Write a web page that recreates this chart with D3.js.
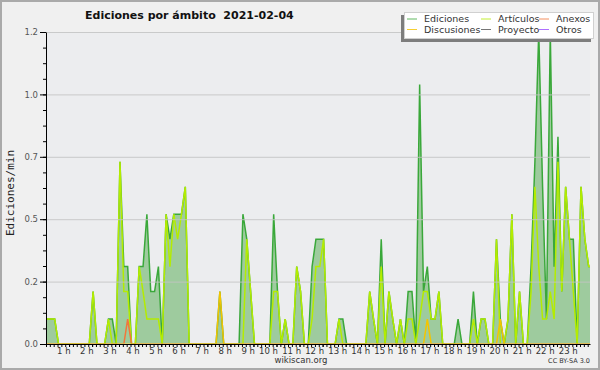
<!DOCTYPE html>
<html>
<head>
<meta charset="utf-8">
<script src="https://cdn.jsdelivr.net/npm/d3@7"></script>
<style>
  body { margin: 0; background: #f0f0f0; }
  svg { display: block; }
  text { font-family: "DejaVu Sans", sans-serif; }
</style>
</head>
<body>
<svg id="chart" width="600" height="370"></svg>
<script>
// edits per minute, one value per 10-minute slot from 00:00
var ediciones = [
  0.1,0.1,0.1,0,0,0,0,0,0,0,0,0,
  0.21,0,0,0,0.1,0.1,0,0.73,0.31,0.31,0,0,
  0.31,0.31,0.52,0.21,0.21,0.31,0,0.52,0.42,0.52,0.52,0.52,
  0.63,0,0,0,0,0,0,0,0,0.21,0,0,
  0,0,0,0.52,0.42,0.21,0,0,0,0,0,0.52,
  0.21,0,0.1,0,0,0.31,0.21,0,0,0.31,0.42,0.42,
  0.42,0,0,0,0.1,0.1,0,0,0,0,0,0,
  0.21,0.1,0,0.42,0,0.21,0.1,0,0.1,0,0.21,0.21,
  0,1.04,0.21,0.31,0.1,0.1,0.21,0,0,0,0,0.1,
  0,0,0,0.21,0,0.1,0.1,0,0,0.42,0.1,0,
  0.1,0.52,0,0.21,0,0,0.31,0.73,1.25,0.63,0.1,1.25,
  0.31,0.83,0.21,0.63,0.42,0.42,0,0.63,0.42,0.31,0.31
];
var articulos = [
  0.1,0.1,0.1,0,0,0,0,0,0,0,0,0,
  0.21,0,0,0,0.1,0,0,0.73,0.21,0.21,0,0,
  0.31,0.21,0.1,0.1,0.1,0.1,0,0.52,0.31,0.52,0.42,0.52,
  0.63,0,0,0,0,0,0,0,0,0,0,0,
  0,0,0,0,0.42,0.21,0,0,0,0,0,0.21,
  0.21,0,0.1,0,0,0.31,0.21,0,0,0.1,0.31,0.31,
  0.42,0,0,0,0.1,0,0,0,0,0,0,0,
  0.21,0.1,0,0.31,0,0.21,0.1,0,0.1,0,0.1,0.1,
  0,0.1,0.21,0.21,0.1,0.1,0.21,0,0,0,0,0,
  0,0,0,0.1,0,0.1,0.1,0,0,0.42,0,0,
  0.1,0.52,0,0.21,0,0,0.21,0.63,0.31,0.1,0.1,0.21,
  0.1,0.73,0.21,0.63,0.42,0.21,0,0.63,0.42,0.31,0.31
];
var anexos = [
  0,0,0,0,0,0,0,0,0,0,0,0,
  0,0,0,0,0,0,0,0,0,0.1,0,0,
  0,0,0,0,0,0,0,0,0,0,0,0,
  0,0,0,0,0,0,0,0,0,0,0,0,
  0,0,0,0,0,0,0,0,0,0,0,0,
  0,0,0,0,0,0,0,0,0,0,0,0,
  0,0,0,0,0,0,0,0,0,0,0,0,
  0,0,0,0,0,0,0,0,0,0,0,0,
  0,0,0,0,0,0,0,0,0,0,0,0,
  0,0,0,0,0,0,0,0,0,0,0,0,
  0,0,0,0,0,0,0,0,0,0,0,0,
  0,0,0,0,0,0,0,0,0,0,0
];
var discusiones = [
  0,0,0,0,0,0,0,0,0,0,0,0,
  0,0,0,0,0,0,0,0,0,0,0,0,
  0,0,0,0,0,0,0,0,0,0,0,0,
  0,0,0,0,0,0,0,0,0,0.21,0,0,
  0,0,0,0,0,0,0,0,0,0,0,0,
  0,0,0,0,0,0,0,0,0,0,0,0,
  0,0,0,0,0,0,0,0,0,0,0,0,
  0,0,0,0,0,0,0,0,0,0,0,0,
  0,0,0,0.1,0,0,0,0,0,0,0,0,
  0,0,0,0,0,0,0,0,0,0,0.1,0,
  0,0,0,0,0,0,0,0,0,0,0,0,
  0,0,0,0,0,0,0,0,0,0,0
];

var yTicks = [0, 0.25, 0.5, 0.75, 1, 1.25];
var yLabels = ["0.0", "0.2", "0.5", "0.7", "1.0", "1.2"];
var hourLabels = d3.range(1, 24);

var legendItems = [
  {name: "Ediciones",   color: "#3aa83a", col: 0, row: 0},
  {name: "Artículos",   color: "#b4ec00", col: 1, row: 0},
  {name: "Anexos",      color: "#f2763a", col: 2, row: 0},
  {name: "Discusiones", color: "#f4c400", col: 0, row: 1},
  {name: "Proyecto",    color: "#555555", col: 1, row: 1},
  {name: "Otros",       color: "#9a4dff", col: 2, row: 1}
];

var svg = d3.select("#chart");
var plotLeft = 46, plotRight = 590, plotTop = 32, plotBottom = 344;

// outer frame
svg.append("rect").attr("x", 1).attr("y", 1).attr("width", 598).attr("height", 368)
  .attr("fill", "#f0f0f0").attr("stroke", "#aaaaaa").attr("stroke-width", 2);
svg.append("rect").attr("x", plotLeft).attr("y", plotTop)
  .attr("width", plotRight - plotLeft).attr("height", plotBottom - plotTop)
  .attr("fill", "#ecedef");

var x = d3.scaleLinear().domain([0, 23.6]).range([plotLeft, plotRight]);
var y = d3.scaleLinear().domain([0, 1.25]).range([plotBottom, plotTop]);
function slotX(i){ return x(i / 6) + 1; }

svg.append("clipPath").attr("id", "plot")
  .append("rect").attr("x", plotLeft).attr("y", plotTop - 2)
  .attr("width", plotRight - plotLeft).attr("height", plotBottom - plotTop + 1.5);

var g = svg.append("g").attr("clip-path", "url(#plot)");

var area = d3.area()
  .x(function(d, i){ return slotX(i); })
  .y0(y(0))
  .y1(function(d){ return y(d); });
var line = d3.line()
  .x(function(d, i){ return slotX(i); })
  .y(function(d){ return y(d); });

g.append("path").datum(ediciones).attr("d", area).attr("fill", "#9ecb9e");

// grid over the area
svg.append("g").selectAll("line").data(yTicks.slice(1)).enter().append("line")
  .attr("x1", plotLeft).attr("x2", plotRight)
  .attr("y1", function(d){ return y(d) + 0.5; }).attr("y2", function(d){ return y(d) + 0.5; })
  .attr("stroke", "#c4c4c4").attr("stroke-width", 1).attr("opacity", 0.85);

var series = [
  {data: ediciones, color: "#3aa83a"},
  {data: articulos, color: "#b4ec00"},
  {data: anexos, color: "#f2763a"},
  {data: discusiones, color: "#f4c400"}
];
g.selectAll("path.serie").data(series).enter().append("path")
  .attr("class", "serie")
  .attr("d", function(s){ return line(s.data); })
  .attr("fill", "none")
  .attr("stroke", function(s){ return s.color; })
  .attr("stroke-width", 1.5)
  .attr("stroke-linejoin", "miter");

// y axis
var yMinor = svg.append("g").attr("transform", "translate(" + plotLeft + ",0)")
  .call(d3.axisLeft(y).tickValues(d3.range(0, 1.26, 0.0625)).tickSize(3).tickFormat("").tickSizeOuter(0));
yMinor.select(".domain").remove();
var yAxis = svg.append("g").attr("transform", "translate(" + plotLeft + ",0)")
  .call(d3.axisLeft(y).tickValues(yTicks).tickSize(6).tickPadding(2).tickSizeOuter(0)
    .tickFormat(function(d, i){ return yLabels[i]; }));
yAxis.selectAll("text").attr("font-size", 8.5).attr("fill", "#555").attr("font-family", "DejaVu Sans");
svg.selectAll(".tick line").attr("stroke", "#000");

// x axis
var xAxis = svg.append("g").attr("transform", "translate(0," + plotBottom + ")")
  .call(d3.axisBottom(x).tickValues(d3.range(0, 142).map(function(i){ return i / 6; }))
    .tickSize(3).tickPadding(1).tickSizeOuter(0).tickFormat(""));
var xLabels = svg.append("g").attr("transform", "translate(0," + plotBottom + ")")
  .call(d3.axisBottom(x).tickValues(hourLabels).tickSize(3).tickPadding(1).tickSizeOuter(0)
    .tickFormat(function(d){ return d + " h"; }));
xLabels.select(".domain").remove();
xLabels.selectAll("text").attr("text-anchor", "end").attr("x", 1)
  .attr("font-size", 8.5).attr("fill", "#333").attr("font-family", "DejaVu Sans");
svg.selectAll(".domain").attr("stroke", "#000");

// title and captions
svg.append("text").attr("x", 85).attr("y", 18.5)
  .attr("font-size", 11).attr("font-weight", "bold").attr("fill", "#111")
  .style("white-space", "pre")
  .text("Ediciones por ámbito  2021-02-04");
svg.append("text").attr("transform", "translate(13.5,193) rotate(-90)")
  .attr("text-anchor", "middle").attr("font-size", 11).attr("fill", "#222")
  .style("font-family", "DejaVu Sans Mono")
  .text("Ediciones/min");
svg.append("text").attr("x", 301).attr("y", 363).attr("text-anchor", "middle")
  .attr("font-size", 8.5).attr("fill", "#333").text("wikiscan.org");
svg.append("text").attr("x", 590).attr("y", 363).attr("text-anchor", "end")
  .attr("font-size", 6.5).attr("fill", "#333").text("CC BY-SA 3.0");

// legend
var legend = svg.append("g");
legend.append("rect").attr("x", 401).attr("y", 15).attr("width", 190).attr("height", 27).attr("fill", "#7d7d7d");
legend.append("rect").attr("x", 404.5).attr("y", 12.5).attr("width", 189).attr("height", 26)
  .attr("fill", "#ffffff").attr("stroke", "#d0d0d0");
var colX = [407, 481, 539];
var rowY = [19, 29.5];
var item = legend.selectAll("g.item").data(legendItems).enter().append("g").attr("class", "item");
item.append("line")
  .attr("x1", function(d){ return colX[d.col]; })
  .attr("x2", function(d){ return colX[d.col] + 10; })
  .attr("y1", function(d){ return rowY[d.row]; })
  .attr("y2", function(d){ return rowY[d.row]; })
  .attr("stroke", function(d){ return d.color; }).attr("stroke-width", 1).attr("opacity", 0.8);
item.append("text")
  .attr("x", function(d){ return colX[d.col] + 17; })
  .attr("y", function(d){ return rowY[d.row] + 3.3; })
  .attr("font-size", 9.5).attr("fill", "#333")
  .text(function(d){ return d.name; });
</script>
</body>
</html>
